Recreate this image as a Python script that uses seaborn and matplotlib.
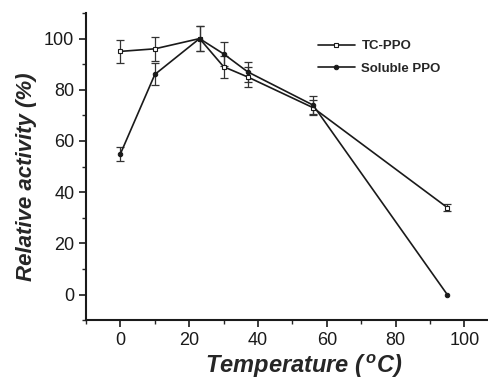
import numpy as np
import pandas as pd
import matplotlib
matplotlib.use("Agg")
import matplotlib.pyplot as plt
import seaborn as sns
from matplotlib.ticker import MultipleLocator

# data
temps = [0, 10, 23, 30, 37, 56, 95]
tc_ppo = [95, 96, 100, 89, 85, 73, 34]
tc_err = [4.6, 4.8, 5.0, 4.3, 4.0, 3.0, 1.5]
soluble_ppo = [55, 86, 100, 94, 87, 74, 0]
soluble_err = [2.7, 4.3, 5.0, 4.7, 4.0, 3.5, 0.0]

sns.set_style("ticks")
plt.rcParams["font.family"] = ["Liberation Sans", "DejaVu Sans"]

df = pd.DataFrame({
    "Temperature": temps * 2,
    "Activity": tc_ppo + soluble_ppo,
    "Enzyme": ["TC-PPO"] * len(temps) + ["Soluble PPO"] * len(temps),
})

fig = plt.figure(figsize=(4.89, 3.82), dpi=100)
ax = fig.add_axes([0.176, 0.162, 0.83, 0.804])

# error bars (skip points without an error)
t = np.array(temps)
for vals, errs in [(tc_ppo, tc_err), (soluble_ppo, soluble_err)]:
    v, e = np.array(vals), np.array(errs)
    keep = e > 0
    ax.errorbar(t[keep], v[keep], yerr=e[keep], fmt="none", ecolor="#333333",
                elinewidth=0.9, capsize=2.6, capthick=0.9, zorder=2)

sns.lineplot(data=df[df["Enzyme"] == "TC-PPO"], x="Temperature", y="Activity",
             color="#1a1a1a", lw=1.2, marker="s", markersize=3.2,
             markerfacecolor="white", markeredgecolor="#1a1a1a", markeredgewidth=0.8,
             label="TC-PPO", ax=ax, zorder=3)
sns.lineplot(data=df[df["Enzyme"] == "Soluble PPO"], x="Temperature", y="Activity",
             color="#1a1a1a", lw=1.2, marker="o", markersize=3.2,
             markerfacecolor="#1a1a1a", markeredgecolor="#1a1a1a",
             label="Soluble PPO", ax=ax, zorder=3)

ax.set_xlim(-10, 108)
ax.set_ylim(-10, 110)
ax.set_xticks([0, 20, 40, 60, 80, 100])
ax.set_yticks([0, 20, 40, 60, 80, 100])
ax.xaxis.set_minor_locator(MultipleLocator(10))
ax.yaxis.set_minor_locator(MultipleLocator(10))
ax.tick_params(axis="both", which="major", direction="out", length=5, width=1.2,
               labelsize=13, colors="#1a1a1a")
ax.tick_params(axis="both", which="minor", direction="out", length=3, width=1.0)

for side in ["top", "right"]:
    ax.spines[side].set_visible(False)
for side in ["left", "bottom"]:
    ax.spines[side].set_linewidth(1.5)
    ax.spines[side].set_color("#1a1a1a")

ax.set_xlabel("Temperature ($\\mathregular{^{\\,o}}$C)", fontsize=17, fontweight="bold",
              fontstyle="italic", labelpad=3)
ax.set_ylabel("Relative activity (%)", fontsize=16, fontweight="bold",
              fontstyle="italic", labelpad=5)
ax.xaxis.label.set_x(0.537)
ax.yaxis.label.set_y(0.467)

leg = ax.legend(loc="upper left", bbox_to_anchor=(0.542, 0.95), frameon=False,
                prop={"weight": "bold", "size": 9.5}, handlelength=2.8,
                handletextpad=0.5, labelspacing=0.75)

fig.savefig("out.png", dpi=100)
